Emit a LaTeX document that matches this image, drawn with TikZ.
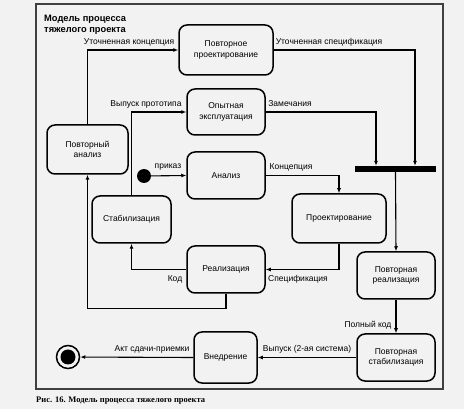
\documentclass[tikz,border=0pt]{standalone}
\usepackage{fontspec}
\setmainfont{Liberation Sans}
\newfontfamily\capfont{Liberation Serif}
\usetikzlibrary{arrows.meta}
\begin{document}
\begin{tikzpicture}[x=1pt,y=-1pt,
  state/.style={draw, line width=1.5pt, rounded corners=8pt, align=center,
    font=\fontsize{8.5}{10.5}\selectfont, inner sep=0pt},
  flow/.style={line width=1.1pt, -{Latex[length=5pt,width=4pt]}},
  lbl/.style={font=\fontsize{8.5}{10}\selectfont, inner sep=0pt}]
\fill[gray!10] (0,0) rectangle (464,409);
\useasboundingbox (0,0) rectangle (464,409);
\draw[line width=1.2pt, black!75] (36,4) rectangle (443,389);

\node[anchor=north west, align=left, inner sep=0pt, font=\bfseries\fontsize{9.3}{10.5}\selectfont] (title) at (44,15) {Модель процесса\\тяжелого проекта};
\node[anchor=west, inner sep=0pt, font=\capfont\bfseries\fontsize{8.5}{10}\selectfont] (cap) at (36,401) {Рис. 16. Модель процесса тяжелого проекта};

\node[state, minimum width=94pt, minimum height=50pt] (pp) at (226,50) {Повторное\\проектирование};
\node[state, minimum width=78pt, minimum height=46pt] (oe) at (226,112) {Опытная\\эксплуатация};
\node[state, minimum width=81pt, minimum height=49pt] (pa) at (87.5,149.5) {Повторный\\анализ};
\node[state, minimum width=78pt, minimum height=47pt] (an) at (226,175.5) {Анализ};
\node[state, minimum width=79pt, minimum height=47pt] (st) at (131.5,219.5) {Стабилизация};
\node[state, minimum width=94pt, minimum height=49pt] (pr) at (339,218.5) {Проектирование};
\node[state, minimum width=78pt, minimum height=47pt] (rl) at (226,269.5) {Реализация};
\node[state, minimum width=78pt, minimum height=47pt] (prl) at (396,275.5) {Повторная\\реализация};
\node[state, minimum width=78pt, minimum height=47pt] (pst) at (396,357.5) {Повторная\\стабилизация};
\node[state, minimum width=63pt, minimum height=51pt] (vn) at (225.5,357.5) {Внедрение};
\node[fill=black, minimum width=81pt, minimum height=6pt, inner sep=0pt] (fork) at (395.5,169) {};
\node[circle, fill=black, minimum size=14pt, inner sep=0pt] (init) at (144,176) {};
\node[circle, draw, line width=1.5pt, minimum size=23pt, inner sep=0pt] (final) at (68,357) {};
\node[circle, fill=black, minimum size=15pt, inner sep=0pt] (finalin) at (final) {};

\draw[flow] (pa.north) |- (pp.west);
\draw[flow] (pp.east) -| ([xshift=19.5pt]fork.north);
\draw[flow] (st.north) |- (oe.west);
\draw[flow] (oe.east) -| ([xshift=-19.5pt]fork.north);
\draw[flow] (init) -- (an.west);
\draw[flow] (an.east) -| (pr.north);
\draw[flow] (pr.south) |- (rl.east);
\draw[flow] (rl.west) -| (st.south);
\draw[flow] (rl.south) -- ++(0,15) -| (pa.south);
\draw[flow] (fork.south) -- (prl.north);
\draw[flow] (prl) -- (pst);
\draw[flow] (pst.west) -- (vn.east);
\draw[flow] (vn.west) -- (final);

\node[lbl] (l1) at (129,42) {Уточненная концепция};
\node[lbl] (l2) at (329,42) {Уточненная спецификация};
\node[lbl] (l3) at (146,104) {Выпуск прототипа};
\node[lbl] (l4) at (290,104) {Замечания};
\node[lbl] (l5) at (168,167) {приказ};
\node[lbl] (l6) at (291,167) {Концепция};
\node[lbl] (l7) at (175,279) {Код};
\node[lbl] (l8) at (298,279) {Спецификация};
\node[lbl] (l9) at (368,325) {Полный код};
\node[lbl] (l10) at (307,349) {Выпуск (2-ая система)};
\node[lbl] (l11) at (152,349) {Акт сдачи-приемки};
\end{tikzpicture}
\end{document}
